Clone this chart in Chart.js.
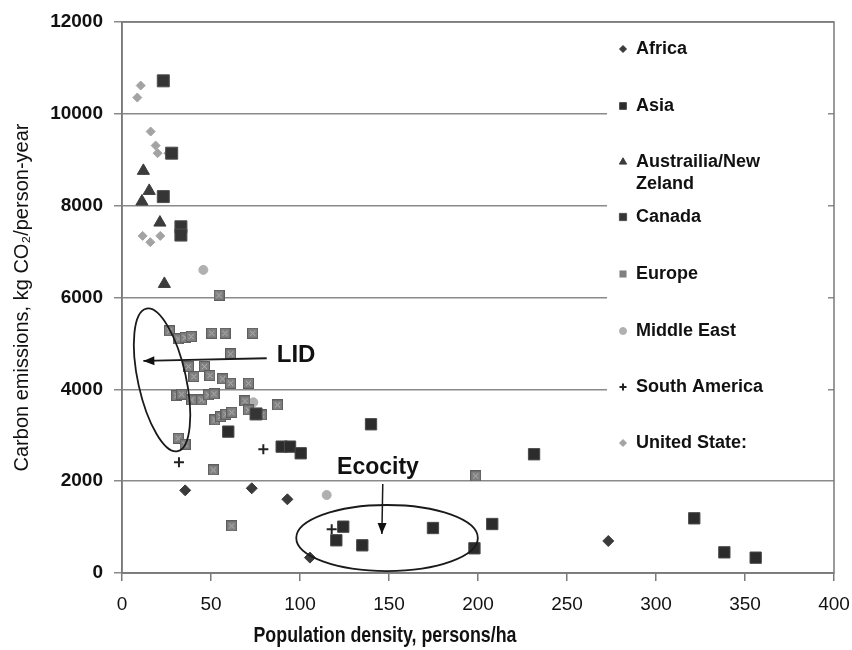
<!DOCTYPE html>
<html>
<head>
<meta charset="utf-8">
<script src="https://cdn.jsdelivr.net/npm/chart.js@4.4.0/dist/chart.umd.min.js"></script>
<style>
  html, body { margin: 0; padding: 0; background: #fff; }
</style>
</head>
<body>
<canvas id="chart" width="852" height="650"></canvas>
<script>
'use strict';

// values: density (persons/ha) and kg CO2 per person-year
let regionNames = ['Africa', 'Asia', 'Austrailia/New Zeland', 'Canada', 'Europe', 'Middle East', 'South America', 'United State:'];

let africaX = [35.5, 72.9, 92.9, 105.6, 273.2];
let africaY = [1800, 1845, 1605, 335, 697];

let asiaX = [59.7, 89.7, 94.4, 100.4, 139.9, 231.5, 124.3, 120.4, 135, 174.7, 208, 198, 321.5, 338.4, 356];
let asiaY = [3079, 2752, 2752, 2607, 3239, 2586, 1009, 712, 603, 980, 1067, 538, 1191, 450, 334];

let ausX = [12, 15.3, 11.2, 21.3, 23.8];
let ausY = [8758, 8322, 8090, 7632, 6296];

let canadaX = [23.2, 27.9, 23.2, 33.1, 33.1, 75.3];
let canadaY = [10719, 9143, 8198, 7540, 7360, 3464];

let europeX = [54.5, 26.6, 31.6, 35.4, 38.8, 50.4, 57.9, 73.4, 61, 37.3, 46.3, 40.4, 49.4, 56.5, 61, 71, 30.7, 33.5,
  39.1, 44.7, 48.5, 51.7, 69.1, 87.3, 71, 78.5, 52.2, 55.4, 58.4, 61.6, 31.6, 35.4, 51.3, 61.6, 198.7];
let europeY = [6050, 5272, 5098, 5127, 5148, 5222, 5222, 5222, 4771, 4495, 4495, 4277, 4299, 4227, 4133, 4133, 3863, 3893,
  3769, 3769, 3878, 3900, 3747, 3660, 3551, 3442, 3333, 3406, 3457, 3500, 2934, 2803, 2244, 1024, 2113];

let middleEastX = [45.7, 73.8, 115];
let middleEastY = [6601, 3718, 1699];

let southAmX = [32, 79.4, 117.8];
let southAmY = [2412, 2695, 952];

let usX = [8.6, 10.5, 16.1, 18.9, 20, 26, 11.6, 15.9, 21.5];
let usY = [10355, 10616, 9614, 9309, 9143, 9143, 7342, 7205, 7342];

let xTicks = [0, 50, 100, 150, 200, 250, 300, 350, 400];
let yTicks = [0, 2000, 4000, 6000, 8000, 10000, 12000];

const SANS = "'Liberation Sans', Arial, sans-serif";

function toPoints(xs, ys) {
  let pts = [];
  for (let i = 0; i < xs.length; i++) {
    pts.push({ x: xs[i], y: ys[i] });
  }
  return pts;
}

// the grey Europe square has a lighter crossed pattern inside it
function europeMark(size) {
  let c = document.createElement('canvas');
  c.width = size; c.height = size;
  let g = c.getContext('2d');
  g.fillStyle = '#808080';
  g.fillRect(0, 0, size, size);
  g.strokeStyle = '#5e5e5e';
  g.lineWidth = 1;
  g.strokeRect(0.5, 0.5, size - 1, size - 1);
  g.strokeStyle = '#b8b8b8';
  g.beginPath();
  g.moveTo(3, 3); g.lineTo(size - 3, size - 3);
  g.moveTo(size - 3, 3); g.lineTo(3, size - 3);
  g.stroke();
  return c;
}

let styles = [
  { style: 'rectRot', r: 5.5, fill: '#3a3a3a', line: '#3a3a3a', bw: 1 },
  { style: 'rect', r: 8, fill: '#2c2c2c', line: '#4a4a4a', bw: 1 },
  { style: 'triangle', r: 7, fill: '#3c3c3c', line: '#3c3c3c', bw: 1 },
  { style: 'rect', r: 8.5, fill: '#353535', line: '#505050', bw: 1 },
  { style: europeMark(11), r: 6, fill: '#808080', line: '#5e5e5e', bw: 0 },
  { style: 'circle', r: 4.5, fill: '#b0b0b0', line: '#b0b0b0', bw: 1 },
  { style: 'cross', r: 5, fill: '#222', line: '#222', bw: 2 },
  { style: 'rectRot', r: 4.5, fill: '#a3a3a3', line: '#a3a3a3', bw: 1 }
];

let seriesData = [
  toPoints(africaX, africaY),
  toPoints(asiaX, asiaY),
  toPoints(ausX, ausY),
  toPoints(canadaX, canadaY),
  toPoints(europeX, europeY),
  toPoints(middleEastX, middleEastY),
  toPoints(southAmX, southAmY),
  toPoints(usX, usY)
];

let datasets = [];
for (let i = 0; i < regionNames.length; i++) {
  datasets.push({
    label: regionNames[i],
    data: seriesData[i],
    pointStyle: styles[i].style,
    pointRadius: styles[i].r,
    backgroundColor: styles[i].fill,
    borderColor: styles[i].line,
    borderWidth: styles[i].bw
  });
}

// legend sits inside the plot on a white panel
const legendPanel = {
  id: 'legendPanel',
  beforeDatasetsDraw(chart) {
    const a = chart.chartArea;
    const ctx = chart.ctx;
    ctx.save();
    ctx.fillStyle = '#fff';
    ctx.fillRect(607, a.top + 1, 221, 452);
    ctx.restore();
  },
  afterDraw(chart) {
    const ctx = chart.ctx;
    const rows = [[49], [106], [162, 184], [217], [274], [331], [387], [443]];
    ctx.save();
    ctx.font = 'bold 18px ' + SANS;
    ctx.textBaseline = 'middle';
    for (let i = 0; i < regionNames.length; i++) {
      let parts = regionNames[i] === 'Austrailia/New Zeland' ? ['Austrailia/New', 'Zeland'] : [regionNames[i]];
      ctx.fillStyle = '#111';
      for (let k = 0; k < parts.length; k++) {
        ctx.fillText(parts[k], 636, rows[i][k]);
      }
      let s = styles[i];
      let custom = typeof s.style !== 'string';
      ctx.fillStyle = s.fill;
      ctx.strokeStyle = s.line;
      ctx.lineWidth = s.bw;
      Chart.helpers.drawPoint(ctx, {
        pointStyle: custom ? 'rect' : s.style,
        radius: custom ? 5 : Math.max(3.5, s.r * 0.6),
        rotation: 0,
        borderWidth: s.bw
      }, 623, rows[i][0]);
    }
    ctx.restore();
  }
};

// hand-drawn notes of the original: LID and Ecocity rings with arrows
let lidNote = { x: 97.8, y: 4750, text: 'LID' };
let lidArrow = { x1: 81.3, y1: 4677, x2: 12, y2: 4619 };
let lidRing = { x: 22.5, y: 4205, rx: 73, ry: 24, angle: 77.6 };
let ecoNote = { x: 143.8, y: 2300, text: 'Ecocity' };
let ecoArrow = { x1: 146.5, y1: 1940, x2: 146, y2: 850 };
let ecoRing = { x: 148.9, y: 762, dx: 51, dy: 719 };

function arrow(ctx, x1, y1, x2, y2) {
  ctx.beginPath();
  ctx.moveTo(x1, y1);
  ctx.lineTo(x2, y2);
  ctx.stroke();
  let ang = Math.atan2(y2 - y1, x2 - x1);
  ctx.beginPath();
  ctx.moveTo(x2, y2);
  ctx.lineTo(x2 - 11 * Math.cos(ang) + 4.5 * Math.sin(ang), y2 - 11 * Math.sin(ang) - 4.5 * Math.cos(ang));
  ctx.lineTo(x2 - 11 * Math.cos(ang) - 4.5 * Math.sin(ang), y2 - 11 * Math.sin(ang) + 4.5 * Math.cos(ang));
  ctx.closePath();
  ctx.fill();
}

const notes = {
  id: 'notes',
  afterDraw(chart) {
    const ctx = chart.ctx;
    const xs = chart.scales.x;
    const ys = chart.scales.y;
    const a = chart.chartArea;
    ctx.save();
    ctx.strokeStyle = '#1a1a1a';
    ctx.fillStyle = '#111';
    ctx.lineWidth = 1.8;

    ctx.beginPath();
    ctx.ellipse(xs.getPixelForValue(lidRing.x), ys.getPixelForValue(lidRing.y), lidRing.rx, lidRing.ry,
      lidRing.angle * Math.PI / 180, 0, Math.PI * 2);
    ctx.stroke();
    arrow(ctx, xs.getPixelForValue(lidArrow.x1), ys.getPixelForValue(lidArrow.y1),
      xs.getPixelForValue(lidArrow.x2), ys.getPixelForValue(lidArrow.y2));

    let ecx = xs.getPixelForValue(ecoRing.x);
    let ecy = ys.getPixelForValue(ecoRing.y);
    ctx.beginPath();
    ctx.ellipse(ecx, ecy, xs.getPixelForValue(ecoRing.x + ecoRing.dx) - ecx,
      ecy - ys.getPixelForValue(ecoRing.y + ecoRing.dy), 0, 0, Math.PI * 2);
    ctx.stroke();
    ctx.lineWidth = 1.5;
    arrow(ctx, xs.getPixelForValue(ecoArrow.x1), ys.getPixelForValue(ecoArrow.y1),
      xs.getPixelForValue(ecoArrow.x2), ys.getPixelForValue(ecoArrow.y2));

    ctx.textAlign = 'center';
    ctx.textBaseline = 'middle';
    ctx.font = 'bold 24px ' + SANS;
    ctx.fillText(lidNote.text, xs.getPixelForValue(lidNote.x), ys.getPixelForValue(lidNote.y));
    ctx.font = 'bold 23px ' + SANS;
    ctx.fillText(ecoNote.text, xs.getPixelForValue(ecoNote.x), ys.getPixelForValue(ecoNote.y));

    // frame on top and right
    ctx.strokeStyle = '#7a7a7a';
    ctx.lineWidth = 1.5;
    ctx.strokeRect(a.left, a.top, a.right - a.left, a.bottom - a.top);

    // x axis title in a narrow bold face, left of centre like the original
    ctx.font = 'bold 22px ' + SANS;
    ctx.fillStyle = '#111';
    ctx.translate(385, 636);
    ctx.scale(0.81, 1);
    ctx.fillText('Population density, persons/ha', 0, 0);
    ctx.restore();
  }
};

function renderChart() {
  const ctx = document.getElementById('chart');
  let config = {
    type: 'scatter',
    data: { datasets: datasets },
    options: {
      responsive: false,
      animation: false,
      devicePixelRatio: 1,
      events: [],
      layout: { padding: { top: 22, right: 18, left: 0, bottom: 0 } },
      plugins: {
        legend: { display: false },
        tooltip: { enabled: false }
      },
      scales: {
        x: {
          type: 'linear',
          min: xTicks[0],
          max: xTicks[xTicks.length - 1],
          afterBuildTicks(scale) { scale.ticks = xTicks.map(v => ({ value: v })); },
          afterFit(scale) {
            scale.height = 77;
            scale.paddingLeft = 0;
            scale.paddingRight = 0;
          },
          ticks: {
            color: '#111',
            font: { family: SANS, size: 19 },
            padding: 12,
            maxRotation: 0,
            callback: v => String(v)
          },
          grid: { drawOnChartArea: false, tickLength: 8, color: '#7a7a7a', lineWidth: 1.5 },
          border: { color: '#7a7a7a', width: 1.5 }
        },
        y: {
          min: yTicks[0],
          max: yTicks[yTicks.length - 1],
          afterBuildTicks(scale) { scale.ticks = yTicks.map(v => ({ value: v })); },
          afterFit(scale) {
            scale.width = 122;
            scale.paddingTop = 0;
            scale.paddingBottom = 0;
          },
          ticks: {
            color: '#111',
            font: { family: SANS, size: 19, weight: 'bold' },
            padding: 11,
            callback: v => String(v)
          },
          grid: { color: '#8a8a8a', lineWidth: 1.5, tickLength: 8 },
          border: { color: '#7a7a7a', width: 1.5 },
          title: {
            display: true,
            text: 'Carbon emissions, kg CO\u2082/person-year',
            color: '#111',
            font: { family: SANS, size: 20 },
            padding: { top: 10, bottom: 0 }
          }
        }
      }
    },
    plugins: [legendPanel, notes]
  };
  new Chart(ctx, config);
}
renderChart();
</script>
</body>
</html>
